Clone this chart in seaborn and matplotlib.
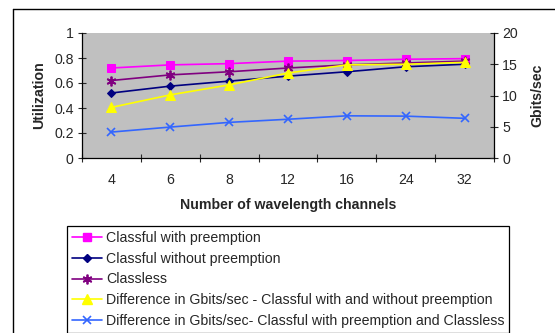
import matplotlib
matplotlib.use("Agg")
import matplotlib.pyplot as plt
from matplotlib.lines import Line2D
from matplotlib.ticker import FuncFormatter, FixedLocator
import seaborn as sns
import pandas as pd

channels = ["4", "6", "8", "12", "16", "24", "32"]
classful_preempt = [0.72, 0.745, 0.755, 0.775, 0.78, 0.79, 0.795]
classful_no_preempt = [0.52, 0.575, 0.615, 0.655, 0.69, 0.73, 0.75]
classless = [0.62, 0.665, 0.69, 0.72, 0.745, 0.76, 0.775]
diff_preempt_gbps = [8.1, 10.1, 11.7, 13.6, 14.9, 15.0, 15.3]
diff_classless_gbps = [4.15, 4.95, 5.7, 6.2, 6.75, 6.7, 6.35]

labels = [
    "Classful with preemption",
    "Classful without preemption",
    "Classless",
    "Difference in Gbits/sec - Classful with and without preemption",
    "Difference in Gbits/sec- Classful with preemption and Classless",
]

sns.set_style("ticks")
plt.rcParams["font.family"] = ["Liberation Sans", "DejaVu Sans"]
plt.rcParams["font.size"] = 10.2

fig = plt.figure(figsize=(5.55, 3.33), dpi=100)
ax = fig.add_axes([82 / 555, 1 - 158 / 333, 412 / 555, 125 / 333])
ax2 = ax.twinx()
ax.set_facecolor("#C0C0C0")
ax2.set_facecolor("none")

styles = [
    dict(color="#FF00FF", marker="s", markersize=5.2),
    dict(color="#000080", marker="D", markersize=4.5),
    dict(color="#800080", marker=(6, 2, 0), markersize=7, markeredgewidth=1.3),
    dict(color="#FFFF00", marker="^", markersize=6.5),
    dict(color="#3366FF", marker="x", markersize=6, markeredgewidth=1.2),
]

left_series = [classful_preempt, classful_no_preempt, classless]
right_series = [diff_preempt_gbps, diff_classless_gbps]

for vals, st in zip(left_series, styles[:3]):
    df = pd.DataFrame({"channels": channels, "value": vals})
    sns.lineplot(data=df, x="channels", y="value", ax=ax, linewidth=1.2,
                 markeredgecolor=st["color"], legend=False, **st)
for vals, st in zip(right_series, styles[3:]):
    df = pd.DataFrame({"channels": channels, "value": vals})
    sns.lineplot(data=df, x="channels", y="value", ax=ax2, linewidth=1.2,
                 markeredgecolor=st["color"], legend=False, **st)

handles = [Line2D([], [], linewidth=1.2, markeredgecolor=st["color"],
                  label=lab, **st) for lab, st in zip(labels, styles)]

ax.set_xlim(-0.5, len(channels) - 0.5)
ax.set_ylim(0, 1)
ax2.set_ylim(0, 20)
ax.set_yticks([0, 0.2, 0.4, 0.6, 0.8, 1])
ax.yaxis.set_major_formatter(FuncFormatter(lambda v, p: f"{v:g}"))
ax2.set_yticks([0, 5, 10, 15, 20])

ax.set_xticks(range(len(channels)))
ax.set_xticklabels(channels)
ax.xaxis.set_minor_locator(FixedLocator([i - 0.5 for i in range(len(channels) + 1)]))
ax.tick_params(axis="x", which="major", length=0, pad=11)
ax.tick_params(axis="x", which="minor", length=6, direction="inout", width=0.8)
ax.tick_params(axis="y", length=6, direction="inout", width=0.8, pad=3)
ax2.tick_params(axis="y", length=6, direction="inout", width=0.8, pad=3)

for a in (ax, ax2):
    a.spines["top"].set_visible(False)
    for s in ("left", "right", "bottom"):
        a.spines[s].set_color("black")
        a.spines[s].set_linewidth(0.9)
ax.spines["right"].set_visible(False)
ax2.spines["left"].set_visible(False)
ax2.spines["bottom"].set_visible(False)

ax.set_xlabel("Number of wavelength channels", fontweight="bold", labelpad=8)
ax.set_ylabel("Utilization", fontweight="bold", labelpad=6)
ax2.set_ylabel("Gbits/sec", fontweight="bold", labelpad=9)

# outer chart frame
fig.add_artist(Line2D([13 / 555, 13 / 555], [0, 1 - 9 / 333], color="black",
                      linewidth=1.0, transform=fig.transFigure))
fig.add_artist(Line2D([13 / 555, 1], [1 - 9 / 333, 1 - 9 / 333], color="black",
                      linewidth=1.0, transform=fig.transFigure))

leg = fig.legend(handles=handles, loc="upper left",
                 bbox_to_anchor=(67 / 555, 1 - 226 / 333),
                 frameon=True, fancybox=False, edgecolor="black",
                 framealpha=1, fontsize=10.15, handlelength=2.1,
                 handletextpad=0.3, borderpad=0.35, labelspacing=0.48,
                 borderaxespad=0)
leg.get_frame().set_linewidth(0.9)

fig.savefig("out.png", dpi=100)
